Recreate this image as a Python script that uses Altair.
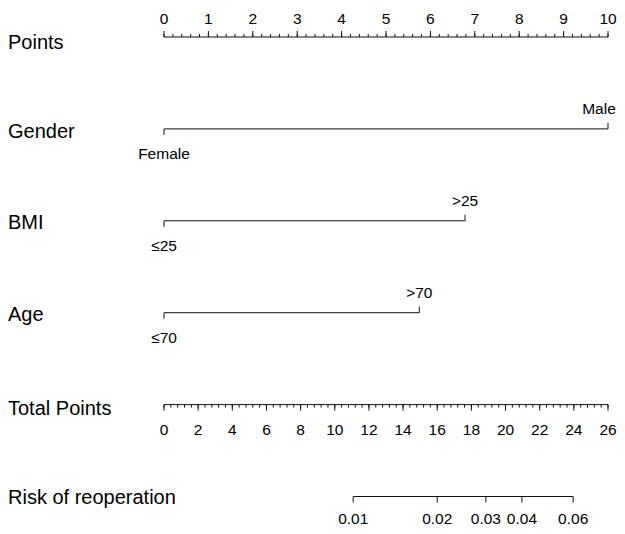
import altair as alt
import pandas as pd

FONT = "Liberation Sans"

# ---- data ----
row_names = ["Points", "Gender", "BMI", "Age", "Total Points", "Risk of reoperation"]

points_major = [0, 1, 2, 3, 4, 5, 6, 7, 8, 9, 10]
points_labels = ["0", "1", "2", "3", "4", "5", "6", "7", "8", "9", "10"]
points_minor_step = 0.2

gender_levels = ["Female", "Male"]
gender_points = [0, 10]

bmi_levels = ["≤25", ">25"]
bmi_points = [0, 6.78]

age_levels = ["≤70", ">70"]
age_points = [0, 5.75]

total_major = [0, 2, 4, 6, 8, 10, 12, 14, 16, 18, 20, 22, 24, 26]
total_labels = ["0", "2", "4", "6", "8", "10", "12", "14", "16", "18", "20", "22", "24", "26"]
total_minor_step = 0.4
total_max = 26

risk_labels = ["0.01", "0.02", "0.03", "0.04", "0.06"]
risk_total_points = [11.08, 16.0, 18.85, 20.96, 23.96]

# ---- derived tables ----
def tp_to_pts(v):
    return v * 10.0 / total_max

n_pminor = int(round(10 / points_minor_step))
points_minor = [round(i * points_minor_step, 4) for i in range(n_pminor + 1)]
n_tminor = int(round(total_max / total_minor_step))
total_minor = [round(i * total_minor_step, 4) for i in range(n_tminor + 1)]

risk_pts = [tp_to_pts(v) for v in risk_total_points]

lines = pd.DataFrame({
    "row": [0, 1, 2, 3, 4, 5],
    "x0": [0, gender_points[0], bmi_points[0], age_points[0], 0, risk_pts[0]],
    "x1": [10, gender_points[1], bmi_points[1], age_points[1], 10, risk_pts[-1]],
})

pmaj = pd.DataFrame({"row": 0, "x": points_major, "lab": points_labels})
pmin = pd.DataFrame({"row": 0, "x": points_minor})
tmaj = pd.DataFrame({"row": 4, "x": [tp_to_pts(v) for v in total_major], "lab": total_labels})
tmin = pd.DataFrame({"row": 4, "x": [tp_to_pts(v) for v in total_minor]})
risk = pd.DataFrame({"row": 5, "x": risk_pts, "lab": risk_labels})

lo = pd.DataFrame({
    "row": [1, 2, 3],
    "x": [gender_points[0], bmi_points[0], age_points[0]],
    "lab": [gender_levels[0], bmi_levels[0], age_levels[0]],
})
hi = pd.DataFrame({
    "row": [1, 2, 3],
    "x": [gender_points[1], bmi_points[1], age_points[1]],
    "lab": [gender_levels[1], bmi_levels[1], age_levels[1]],
})

xs = alt.Scale(domain=[0, 10], range=[156, 600])
ys = alt.Scale(domain=[0, 5], range=[29, 488.5])

X = alt.X("x:Q", scale=xs, axis=None)
Y = alt.Y("row:Q", scale=ys, axis=None)
Y2 = alt.Y2("row:Q")

STROKE = "#111111"

base_lines = alt.Chart(lines).mark_rule(color=STROKE, strokeWidth=1).encode(
    x=alt.X("x0:Q", scale=xs, axis=None), x2="x1:Q", y=Y
)

def ticks(df, off):
    return alt.Chart(df).mark_rule(color=STROKE, strokeWidth=1, y2Offset=off).encode(
        x=X, y=Y, y2=Y2
    )

def texts(df, dy, dx=0, size=15.5):
    return alt.Chart(df).mark_text(
        font=FONT, fontSize=size, dy=dy, dx=dx, baseline="alphabetic", align="center", color="black"
    ).encode(x=X, y=Y, text="lab:N")

label_dy = [6, 3, 2, 2, 4, 1]
left_labels = [
    alt.Chart(pd.DataFrame({"row": [i], "name": [row_names[i]]})).mark_text(
        font=FONT, fontSize=20, align="left", baseline="middle", dy=label_dy[i], color="black"
    ).encode(x=alt.value(0), y=Y, text="name:N")
    for i in range(len(row_names))
]

chart = alt.layer(
    base_lines,
    ticks(pmaj, -6), ticks(pmin, -3), texts(pmaj, -13.5),
    ticks(tmaj, 6), ticks(tmin, 3), texts(tmaj, 30),
    ticks(risk, 6), texts(risk, 27.5),
    ticks(lo, 6), texts(lo, 30),
    ticks(hi, -6), texts(hi[hi["row"] != 1], -14.5), texts(hi[hi["row"] == 1], -14.5, dx=-9),
    *left_labels,
).properties(
    width=609, height=518, autosize=alt.AutoSizeParams(type="none"), padding=0
).configure_view(stroke=None)

chart.save("out.html", embed_options={"renderer": "svg", "actions": False})
